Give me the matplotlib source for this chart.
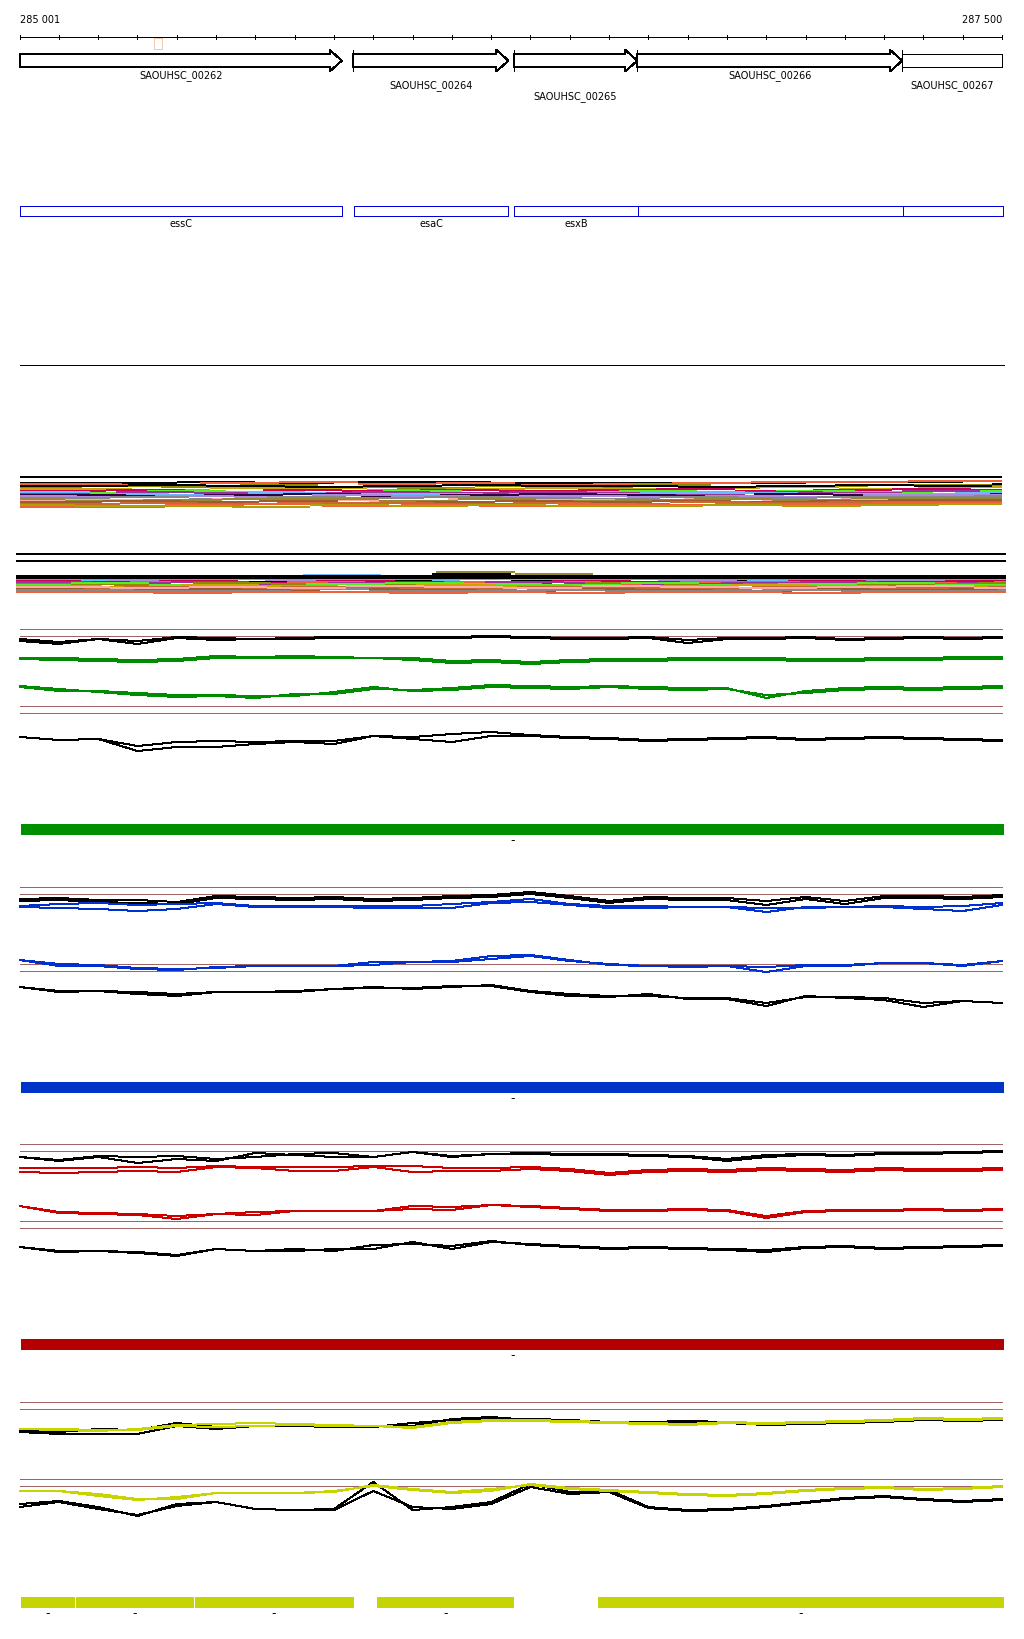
import matplotlib
matplotlib.use('Agg')
import matplotlib.pyplot as plt
from matplotlib.patches import Polygon, Rectangle

plt.rcParams['font.family'] = ['DejaVu Sans']
plt.rcParams['lines.antialiased'] = False
plt.rcParams['patch.antialiased'] = False

# ---------------- data ----------------
view_start = 285001
view_end = 287500
ruler_step = 100

gene_names = ['SAOUHSC_00262', 'SAOUHSC_00264', 'SAOUHSC_00265', 'SAOUHSC_00266', 'SAOUHSC_00267']
gene_starts = [285001, 285849, 286257, 286572, 287246]
gene_ends = [285820, 286244, 286572, 287246, 287500]
gene_label_rows = [0, 1, 2, 0, 1]
gene_open_left = [True, False, False, False, False]
gene_open_right = [False, False, False, False, True]

marker_start, marker_end = 285342, 285362

alias_names = ['essC', 'esaC', 'esxB', '', '']
alias_starts = [285001, 285851, 286258, 286573, 287248]
alias_ends = [285820, 286244, 286573, 287248, 287503]

# stacked multi-colour tracks: one level per 200 bp block (row index, top = 0),
# each row has its own block phase (bp)
stack_colors_a = ['#000000', '#f0603a', '#8c8c00', '#c8a800', '#cc0055', '#55ee22', '#993399',
                  '#66bbff', '#330044', '#aa88dd', '#888888', '#ffaaaa', '#998833', '#a05a2c',
                  '#cc6633', '#f0603a', '#000000', '#b0a000']
stack_phase_a = [0, 60, -40, 85, 20, -75, 45, -20, 70, -55, 30, 90, -85, 10, 55, -30, 75, -60]
stack_rows_a = [
    [14, 14, 13, 14, 13, 13, 14, 14, 14, 14, 13, 13, 12],
    [15, 16, 14, 13, 15, 14, 16, 15, 14, 13, 13, 12, 12],
    [19, 17, 18, 16, 18, 19, 17, 18, 16, 18, 17, 16, 16],
    [20, 21, 19, 19, 21, 20, 19, 20, 19, 18, 20, 18, 18],
    [22, 21, 23, 21, 22, 21, 22, 21, 20, 22, 21, 20, 21],
    [24, 24, 22, 23, 25, 22, 24, 23, 22, 23, 22, 23, 22],
    [25, 23, 24, 24, 23, 24, 23, 24, 25, 23, 24, 22, 24],
    [23, 25, 26, 24, 25, 25, 26, 25, 24, 24, 25, 25, 24],
    [26, 27, 26, 25, 27, 26, 25, 26, 27, 25, 26, 27, 25],
    [27, 28, 27, 28, 26, 27, 28, 27, 28, 27, 28, 26, 26],
    [29, 28, 30, 28, 29, 28, 29, 30, 28, 29, 28, 28, 27],
    [31, 31, 30, 31, 32, 30, 31, 31, 30, 31, 30, 30, 30],
    [30, 32, 31, 30, 30, 32, 30, 32, 31, 30, 31, 29, 29],
    [33, 32, 33, 32, 34, 33, 32, 33, 32, 33, 32, 31, 31],
    [35, 34, 35, 34, 34, 35, 34, 35, 33, 34, 33, 33, 33],
    [38, 38, 36, 35, 37, 36, 37, 35, 36, 35, 35, 34, 34],
    [17, 16, 17, 18, 17, 16, 17, 17, 18, 17, 16, 17, 15],
    [36, 37, 37, 38, 36, 37, 36, 37, 37, 36, 37, 36, 35],
]
stack_colors_b = ['#998833', '#66bbff', '#000000', '#aa88dd', '#cc0055', '#f0603a', '#993399',
                  '#8c8c00', '#55ee22', '#c8a800', '#cc6633', '#a05a2c', '#888888', '#f0603a',
                  '#ffaaaa']
stack_phase_b = [60, -80, 50, 25, -45, 80, -15, 40, -70, 10, 65, -35, 90, -60, 30]
stack_rows_b = [
    [31, 30, 30, 31, 30, 23, 25, 30, 31, 30, 30, 30, 30],
    [31, 31, 29, 30, 26, 31, 30, 31, 30, 31, 31, 30, 31],
    [33, 32, 33, 32, 32, 25, 32, 33, 32, 33, 32, 33, 32],
    [30, 31, 30, 31, 30, 30, 29, 30, 31, 30, 31, 31, 30],
    [32, 33, 32, 34, 32, 33, 34, 32, 33, 34, 32, 33, 32],
    [34, 33, 35, 33, 34, 33, 33, 35, 33, 33, 34, 34, 33],
    [33, 34, 33, 35, 34, 35, 33, 34, 35, 34, 33, 35, 34],
    [35, 36, 34, 35, 36, 35, 36, 34, 36, 35, 36, 35, 34],
    [36, 34, 36, 37, 35, 34, 35, 36, 34, 36, 35, 34, 36],
    [37, 38, 36, 37, 38, 36, 37, 38, 37, 36, 37, 38, 37],
    [39, 38, 40, 38, 39, 40, 38, 39, 40, 38, 39, 39, 38],
    [40, 41, 40, 41, 40, 41, 42, 40, 41, 42, 40, 41, 40],
    [41, 42, 42, 40, 42, 42, 41, 42, 42, 41, 42, 42, 41],
    [43, 43, 44, 43, 43, 44, 43, 44, 43, 43, 44, 43, 43],
    [38, 39, 38, 39, 37, 38, 39, 37, 38, 39, 38, 37, 39],
]
stack_b_span = (284991, 287511)

# profile sections, one value per 100 bp (two strands each)
thresholds = [130, 123, 53, 46]

grn_blk1_a = [120, 117, 120, 118, 122, 121, 120, 121, 122, 122, 122, 122, 123, 122, 121, 121, 122, 119, 121, 121, 122, 120, 121, 122, 121, 122]
grn_blk1_b = [118, 115, 120, 115, 121, 119, 120, 120, 121, 121, 121, 121, 122, 121, 120, 120, 121, 116, 120, 120, 121, 119, 120, 121, 120, 121]
grn_ln1_a = [100, 99, 98, 97, 98, 101, 101, 101, 101, 101, 99, 96, 97, 95, 97, 98, 98, 99, 99, 99, 98, 98, 99, 99, 100, 100]
grn_ln1_b = [101, 101, 100, 99, 100, 103, 102, 103, 102, 101, 101, 98, 99, 97, 99, 100, 100, 101, 101, 101, 100, 100, 101, 101, 102, 102]
grn_ln2_a = [72, 68, 68, 66, 64, 64, 63, 63, 67, 72, 68, 69, 72, 71, 70, 72, 70, 69, 70, 64, 66, 69, 70, 69, 70, 71]
grn_ln2_b = [73, 70, 67, 64, 62, 63, 61, 65, 65, 70, 69, 71, 74, 73, 72, 73, 72, 71, 71, 61, 68, 71, 72, 71, 72, 73]
grn_blk2_a = [22, 19, 20, 13, 17, 18, 17, 18, 18, 23, 22, 25, 27, 24, 22, 21, 19, 20, 21, 22, 20, 21, 22, 21, 20, 19]
grn_blk2_b = [22, 19, 20, 8, 12, 12, 15, 17, 15, 23, 20, 17, 23, 23, 21, 20, 18, 19, 20, 21, 19, 20, 21, 20, 19, 18]

blu_blk1_a = [118, 119, 117, 117, 115, 121, 120, 119, 120, 118, 119, 121, 122, 125, 121, 116, 120, 119, 119, 116, 120, 116, 121, 121, 120, 122]
blu_blk1_b = [116, 117, 115, 114, 113, 119, 118, 117, 118, 116, 117, 119, 120, 123, 119, 114, 118, 117, 117, 112, 118, 113, 119, 119, 118, 120]
blu_ln1_a = [111, 113, 114, 112, 113, 114, 111, 111, 111, 111, 111, 113, 115, 118, 113, 111, 111, 110, 110, 109, 109, 110, 111, 110, 111, 114]
blu_ln1_b = [110, 109, 108, 106, 108, 113, 110, 110, 110, 109, 109, 109, 114, 115, 112, 109, 109, 110, 110, 105, 110, 110, 110, 108, 106, 112]
blu_ln2_a = [57, 53, 52, 49, 48, 49, 51, 51, 51, 52, 55, 55, 58, 61, 56, 53, 51, 51, 51, 50, 52, 52, 54, 54, 52, 56]
blu_ln2_b = [57, 51, 51, 48, 47, 50, 51, 51, 51, 55, 55, 56, 61, 62, 57, 52, 51, 50, 51, 45, 51, 51, 54, 54, 51, 56]
blu_blk2_a = [30, 26, 26, 25, 23, 25, 25, 26, 28, 30, 28, 30, 32, 26, 23, 21, 21, 19, 19, 14, 20, 20, 19, 14, 16, 14]
blu_blk2_b = [30, 25, 26, 23, 21, 25, 25, 25, 28, 29, 29, 31, 31, 25, 21, 20, 23, 18, 18, 11, 21, 19, 17, 10, 16, 14]

red_blk1_a = [117, 114, 118, 117, 118, 115, 117, 120, 121, 117, 122, 118, 120, 121, 120, 120, 119, 118, 115, 119, 120, 119, 121, 121, 122, 123]
red_blk1_b = [117, 113, 117, 111, 115, 113, 121, 119, 117, 117, 122, 117, 120, 120, 119, 119, 118, 117, 113, 117, 119, 118, 120, 120, 121, 122]
red_ln1_a = [106, 106, 106, 107, 106, 108, 107, 107, 107, 108, 108, 106, 106, 107, 105, 101, 104, 105, 104, 106, 105, 104, 106, 105, 105, 106]
red_ln1_b = [102, 101, 102, 103, 102, 107, 106, 103, 103, 107, 102, 103, 103, 105, 103, 99, 102, 103, 102, 104, 103, 102, 104, 103, 103, 104]
red_ln2_a = [68, 62, 61, 60, 58, 60, 62, 63, 63, 63, 68, 67, 69, 68, 66, 64, 64, 65, 64, 58, 63, 64, 64, 65, 64, 65]
red_ln2_b = [68, 61, 60, 59, 55, 60, 59, 63, 63, 63, 65, 64, 69, 67, 65, 63, 63, 64, 63, 56, 62, 63, 63, 64, 63, 64]
red_blk2_a = [27, 23, 23, 22, 19, 25, 23, 23, 25, 25, 32, 25, 32, 30, 28, 26, 27, 26, 25, 24, 27, 28, 26, 27, 28, 29]
red_blk2_b = [27, 22, 23, 21, 18, 25, 23, 25, 23, 29, 30, 28, 33, 29, 27, 25, 26, 25, 24, 22, 26, 27, 25, 26, 27, 28]

yel_blk1_a = [101, 100, 103, 102, 109, 105, 106, 107, 105, 105, 109, 112, 114, 113, 112, 110, 110, 111, 110, 108, 109, 110, 111, 113, 112, 113]
yel_blk1_b = [100, 98, 98, 98, 106, 103, 106, 106, 105, 106, 106, 113, 115, 112, 111, 109, 109, 110, 109, 107, 108, 109, 110, 112, 111, 112]
yel_ln1_a = [103, 102, 101, 103, 107, 108, 109, 108, 107, 106, 105, 110, 112, 112, 111, 110, 109, 108, 110, 109, 110, 111, 112, 114, 113, 114]
yel_ln1_b = [103, 103, 102, 102, 106, 105, 106, 107, 106, 106, 104, 109, 111, 111, 110, 109, 108, 107, 109, 108, 109, 110, 111, 113, 112, 113]
yel_ln2_a = [41, 41, 36, 32, 35, 39, 39, 39, 41, 46, 42, 39, 41, 48, 44, 42, 40, 38, 37, 39, 42, 44, 45, 43, 44, 46]
yel_ln2_b = [41, 41, 38, 33, 33, 39, 39, 39, 40, 47, 43, 40, 43, 47, 43, 41, 39, 37, 36, 38, 41, 43, 44, 42, 43, 45]
yel_blk2_a = [28, 31, 25, 16, 28, 30, 23, 22, 23, 50, 22, 25, 30, 48, 40, 42, 25, 22, 23, 26, 30, 34, 36, 33, 31, 33]
yel_blk2_b = [25, 30, 23, 17, 26, 30, 23, 22, 22, 41, 25, 23, 28, 45, 38, 40, 24, 21, 22, 25, 29, 33, 35, 32, 30, 32]

# coloured feature bars under each section
bar_colors = ['#008f00', '#0033c8', '#b40000', '#c4d404']
bar_segments = [
    [(285001, 287506)],
    [(285001, 287506)],
    [(285001, 287506)],
    [(285001, 285142), (285142, 285443), (285444, 285850), (285908, 286258), (286469, 287505)],
]

# ---------------- layout ----------------
W, H = 1024, 1640
PX = 0.72  # one pixel in points at dpi 100
x0_px, x1_px = 20, 1002
bp_per_px = (view_end - view_start) / (x1_px - x0_px)
xlim = (view_start - x0_px * bp_per_px, view_end + (W - x1_px) * bp_per_px)

fig = plt.figure(figsize=(W / 100, H / 100), dpi=100)


def track(top, height, ylim):
    ax = fig.add_axes([0, 1 - (top + height) / H, 1, height / H])
    ax.set_xlim(*xlim)
    ax.set_ylim(*ylim)
    ax.axis('off')
    return ax


def block_edges(phase, lo, hi):
    inner = [285000 + phase + 200 * k for k in range(1, 13)]
    return [lo] + inner + [hi]


# ruler, genes, aliases
ax = track(0, 380, (380, 0))
ax.text(view_start, 20, f'{view_start:,}'.replace(',', ' '), ha='left', va='center', fontsize=7)
ax.text(view_end, 20, f'{view_end:,}'.replace(',', ' '), ha='right', va='center', fontsize=7)
ax.hlines(38.3, view_start, view_end, color='k', lw=PX)
ticks = [view_start] + list(range(view_start - 1 + ruler_step, view_end, ruler_step)) + [view_end]
ax.vlines(ticks, 36.3, 40.3, color='k', lw=PX)
ax.add_patch(Rectangle((marker_start, 39), marker_end - marker_start, 11, fill=False, ec='#f5c8b0', lw=PX))

head = 12 * bp_per_px
top, bot, mid, ear_t, ear_b = 55, 68.3, 61.7, 51, 72.3
label_y = [76, 85.5, 97]
for name, s, e, row, ol, orr in zip(gene_names, gene_starts, gene_ends, gene_label_rows,
                                    gene_open_left, gene_open_right):
    if orr:
        pts = [(s, top), (e, top), (e, bot), (s, bot)]
    else:
        hs = e - head
        pts = [(s, top), (hs, top), (hs, ear_t), (e, mid), (hs, ear_b), (hs, bot), (s, bot)]
    ax.add_patch(Polygon(pts, closed=True, fc='white', ec='k', lw=PX))
    if not ol:
        ax.vlines(s, ear_t, ear_b, color='k', lw=PX)
    ax.text((s + e) / 2, label_y[row], name, ha='center', va='center', fontsize=7)

for name, s, e in zip(alias_names, alias_starts, alias_ends):
    ax.add_patch(Rectangle((s, 207.3), e - s, 10, fill=False, ec='#0000dd', lw=PX))
    if name:
        ax.text((s + e) / 2, 224, name, ha='center', va='center', fontsize=7)

ax.hlines(366, view_start, 287505, color='k', lw=PX)

# stacked coloured tracks (horizontal dashes, one per block)
ax = track(470, 45, (45, 0))
ax.hlines([8.3], view_start, view_end, color='k', lw=PX * 1.5)
for c, ph, rows in zip(stack_colors_a, stack_phase_a, stack_rows_a):
    e = block_edges(ph, view_start, view_end)
    ax.hlines(rows, e[:-1], e[1:], color=c, lw=PX * 2)

ax = track(550, 50, (50, 0))
ax.hlines([5.3, 12.3], *stack_b_span, color='k', lw=PX * 1.5)
for c, ph, rows in zip(stack_colors_b, stack_phase_b, stack_rows_b):
    e = block_edges(ph, *stack_b_span)
    ax.hlines(rows, e[:-1], e[1:], color=c, lw=PX * 2)
ax.hlines(27.7, *stack_b_span, color='k', lw=PX * 2.5)

# profile sections
pos = list(range(285000, view_end + 1, ruler_step))
sections = [
    (620, '#008c00', [grn_blk1_a, grn_blk1_b], [grn_ln1_a, grn_ln1_b, grn_ln2_a, grn_ln2_b], [grn_blk2_a, grn_blk2_b]),
    (878, '#0030d0', [blu_blk1_a, blu_blk1_b], [blu_ln1_a, blu_ln1_b, blu_ln2_a, blu_ln2_b], [blu_blk2_a, blu_blk2_b]),
    (1135, '#cc0000', [red_blk1_a, red_blk1_b], [red_ln1_a, red_ln1_b, red_ln2_a, red_ln2_b], [red_blk2_a, red_blk2_b]),
    (1393, '#c8d400', [yel_blk1_a, yel_blk1_b], [yel_ln1_a, yel_ln1_b, yel_ln2_a, yel_ln2_b], [yel_blk2_a, yel_blk2_b]),
]
for i, (top_px, col, blk1, lines, blk2) in enumerate(sections):
    ax = track(top_px, 140, (0, 140))
    ax.hlines(thresholds, view_start, view_end, color='#a06464', lw=PX)
    for v in blk1 + blk2:
        ax.plot(pos, v, color='k', lw=PX)
    for v in lines:
        ax.plot(pos, v, color=col, lw=PX)

    bx = track(top_px + 204, 30, (30, 0))
    for s, e in bar_segments[i]:
        bx.barh(6, e - s, left=s, height=12, color=bar_colors[i], ec='white', lw=PX * 0.5)
        bx.text((s + e) / 2, 17, '-', ha='center', va='center', fontsize=9)

fig.savefig('out.png', dpi=100)
